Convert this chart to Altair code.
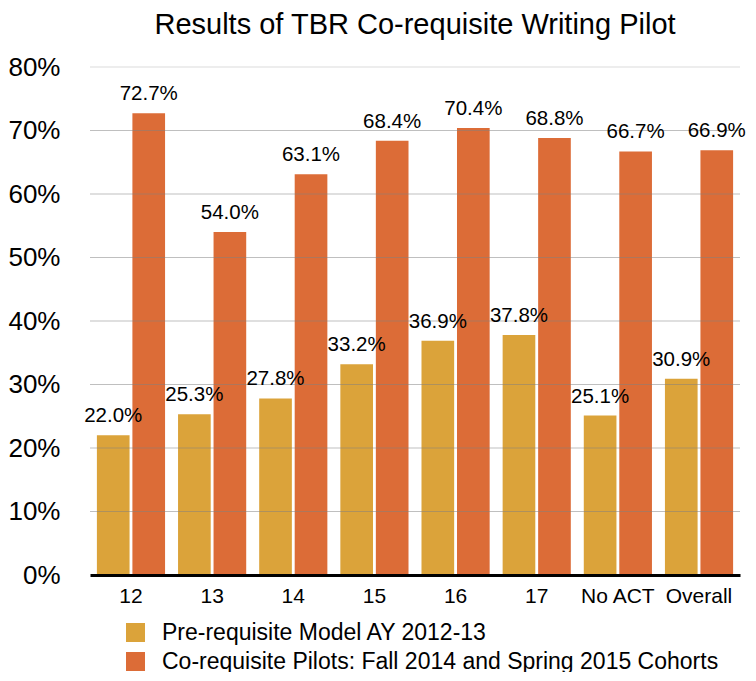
import altair as alt
import pandas as pd

categories = ["12", "13", "14", "15", "16", "17", "No ACT", "Overall"]
pre_values = [22.0, 25.3, 27.8, 33.2, 36.9, 37.8, 25.1, 30.9]
co_values = [72.7, 54.0, 63.1, 68.4, 70.4, 68.8, 66.7, 66.9]
series = ["Pre-requisite Model AY 2012-13",
          "Co-requisite Pilots: Fall 2014 and Spring 2015 Cohorts"]
colors = ["#DBA33A", "#DC6C37"]
y_ticks = [0, 0.1, 0.2, 0.3, 0.4, 0.5, 0.6, 0.7, 0.8]
grid_values = [0.1, 0.2, 0.3, 0.4, 0.5, 0.6, 0.7, 0.8]

rows = []
for c, p, q in zip(categories, pre_values, co_values):
    rows.append({"cat": c, "series": series[0], "value": p / 100})
    rows.append({"cat": c, "series": series[1], "value": q / 100})
df = pd.DataFrame(rows)

FONT = "Liberation Sans"

y_scale = alt.Scale(domain=[0, 0.8])

base = alt.Chart(df).encode(
    x=alt.X("cat:N", sort=categories,
            scale=alt.Scale(paddingInner=0.16, paddingOuter=0.085),
            axis=alt.Axis(title=None, labelAngle=0, labelFontSize=21, labelFont=FONT,
                          labelColor="black", labelPadding=10, ticks=False,
                          domainColor="black", domainWidth=3, zindex=2)),
    xOffset=alt.XOffset("series:N", sort=series,
                        scale=alt.Scale(domain=series, paddingInner=0.08)),
    y=alt.Y("value:Q", scale=y_scale,
            axis=alt.Axis(title=None, values=y_ticks, format=".0%", labelFontSize=26,
                          labelFont=FONT, labelColor="black", labelPadding=30,
                          ticks=False, domain=False, grid=False)),
)

bars = base.mark_bar().encode(
    color=alt.Color("series:N", sort=series,
                    scale=alt.Scale(domain=series, range=colors),
                    legend=alt.Legend(title=None, orient="none", legendX=34, legendY=554,
                                      direction="vertical", symbolType="square",
                                      symbolSize=361, symbolStrokeWidth=0, symbolOpacity=1,
                                      labelFontSize=23, labelFont=FONT, labelColor="black",
                                      labelOffset=15, rowPadding=5, labelLimit=700))
)

grid = alt.Chart(pd.DataFrame({"v": grid_values})).mark_rule(strokeWidth=1, opacity=0.5).encode(
    y=alt.Y("v:Q", scale=y_scale),
    color=alt.condition(alt.datum.v >= 0.8, alt.value("#b8b8b8"), alt.value("#808080")),
)

labels = base.mark_text(baseline="bottom", dy=-9, fontSize=20.5, font=FONT, color="black").encode(
    text=alt.Text("value:Q", format=".1%")
)

chart = alt.layer(bars, grid, labels).resolve_scale(color="independent").properties(
    width=650, height=508,
    autosize=alt.AutoSizeParams(type="none"),
    padding={"left": 82, "top": 59, "right": 8, "bottom": 97},
    title=alt.TitleParams("Results of TBR Co-requisite Writing Pilot", fontSize=29, font=FONT,
                          fontWeight="normal", color="black", anchor="middle", offset=14),
).configure_view(stroke=None)

chart.save("out.html", embed_options={"renderer": "svg", "actions": False})
